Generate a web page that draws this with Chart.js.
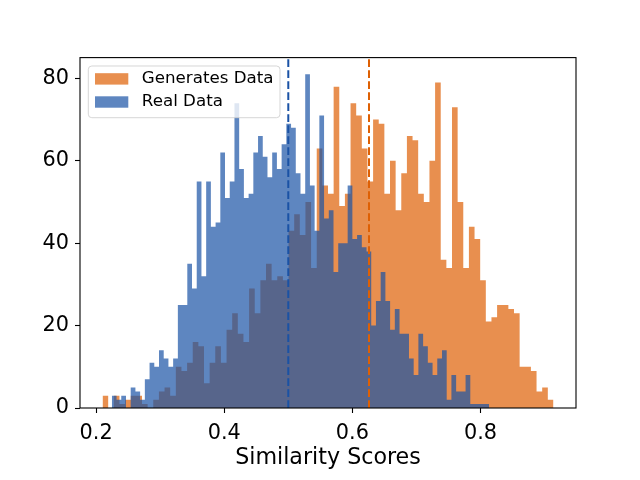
<!DOCTYPE html>
<html>
<head>
<meta charset="utf-8">
<script src="https://cdn.jsdelivr.net/npm/chart.js@4.4.1/dist/chart.umd.min.js"></script>
<style>
  html, body { margin: 0; padding: 0; background: #fff; }
  canvas { display: block; }
</style>
</head>
<body>
<canvas id="chartHist" width="640" height="480"></canvas>
<script>
  // counts per bin (80 bins each)
  const generatedCounts = [
    3, 0, 3, 1, 2, 3, 3, 1, 0, 2,
    4, 5, 3, 10, 9, 11, 16, 15, 6, 11,
    15, 11, 19, 23, 18, 16, 29, 23, 31, 35,
    31, 32, 31, 43, 47, 42, 50, 34, 63, 54,
    52, 78, 49, 52, 74, 71, 63, 55, 70, 69,
    52, 60, 48, 57, 66, 65, 52, 50, 60, 79,
    36, 34, 73, 50, 34, 44, 41, 31, 21, 22,
    25, 25, 24, 23, 10, 10, 9, 4, 5, 2
  ];
  const realCounts = [
    3, 2, 3, 0, 5, 4, 2, 7, 11, 10,
    14, 12, 10, 12, 25, 25, 35, 29, 55, 32,
    55, 44, 45, 62, 51, 55, 74, 58, 51, 52,
    62, 66, 61, 56, 62, 58, 64, 69, 68, 57,
    52, 81, 54, 43, 71, 46, 48, 33, 40, 40,
    54, 41, 42, 39, 38, 20, 26, 33, 26, 19,
    24, 18, 18, 12, 8, 18, 15, 11, 8, 12,
    14, 2, 8, 4, 4, 8, 1, 1, 1, 1
  ];
  // first and last bin edge of each series
  const generatedRange = [0.2100, 0.9140];
  const realRange = [0.2245, 0.8136];
  // mean markers
  const generatedMean = 0.626;
  const realMean = 0.500;

  const seriesLabels = ['Generates Data', 'Real Data'];
  const xTitle = 'Similarity Scores';
  const xTicks = [0.2, 0.4, 0.6, 0.8];
  const yTicks = [0, 20, 40, 60, 80];
  const xLimits = [0.1748, 0.9492];
  const yLimits = [0, 85.05];

  const orangeFill = 'rgba(222, 96, 4, 0.7)';
  const blueFill = 'rgba(26, 82, 165, 0.7)';
  const font = 'DejaVu Sans';

  // histogram outline as step points (left edges + closing edge)
  function histPoints(counts, range) {
    const w = (range[1] - range[0]) / counts.length;
    const pts = counts.map((c, i) => ({ x: range[0] + i * w, y: c }));
    pts.push({ x: range[1], y: 0 });
    return pts;
  }

  function meanLine(x) {
    return [{ x: x, y: yLimits[0] }, { x: x, y: yLimits[1] }];
  }

  // black frame round the plot (all four spines)
  const frame = {
    id: 'frame',
    afterDatasetsDraw(chart) {
      const a = chart.chartArea;
      const ctx = chart.ctx;
      ctx.save();
      ctx.strokeStyle = '#000';
      ctx.lineWidth = 1.1;
      ctx.strokeRect(a.left, a.top, a.right - a.left, a.bottom - a.top);
      ctx.restore();
    }
  };

  // matplotlib-like legend inside the axes, upper left
  const legendBox = {
    id: 'legendBox',
    afterDraw(chart) {
      const a = chart.chartArea;
      const ctx = chart.ctx;
      const x0 = a.left + 8.3, y0 = a.top + 8.4;
      const w = 191.7, h = 51.7;
      ctx.save();
      ctx.beginPath();
      ctx.roundRect(x0, y0, w, h, 3.5);
      ctx.fillStyle = 'rgba(255,255,255,0.8)';
      ctx.fill();
      ctx.strokeStyle = 'rgba(204,204,204,0.8)';
      ctx.lineWidth = 1;
      ctx.stroke();
      const fills = [orangeFill, blueFill];
      ctx.font = '16.7px "' + font + '"';
      ctx.textBaseline = 'middle';
      ctx.textAlign = 'left';
      seriesLabels.forEach((lab, i) => {
        const cy = y0 + 12.8 + i * 23.1;
        ctx.fillStyle = '#fff';
        ctx.fillRect(x0 + 6.7, cy - 5.6, 33.3, 11.4);
        ctx.fillStyle = fills[i];
        ctx.fillRect(x0 + 6.7, cy - 5.6, 33.3, 11.4);
        ctx.fillStyle = '#000';
        ctx.fillText(lab, x0 + 53.5, cy);
      });
      ctx.restore();
    }
  };

  const ctxHist = document.getElementById('chartHist');

  new Chart(ctxHist, {
    type: 'line',
    data: {
      datasets: [
        {
          label: seriesLabels[0],
          data: histPoints(generatedCounts, generatedRange),
          stepped: 'before',
          fill: 'origin',
          backgroundColor: orangeFill,
          borderColor: 'rgba(0,0,0,0)',
          borderWidth: 0,
          pointRadius: 0,
          order: 2
        },
        {
          label: seriesLabels[1],
          data: histPoints(realCounts, realRange),
          stepped: 'before',
          fill: 'origin',
          backgroundColor: blueFill,
          borderColor: 'rgba(0,0,0,0)',
          borderWidth: 0,
          pointRadius: 0,
          order: 1
        },
        {
          label: 'real mean',
          data: meanLine(realMean),
          borderColor: '#1a52a5',
          borderWidth: 2,
          borderDash: [7.7, 3.3],
          pointRadius: 0,
          fill: false,
          order: 0
        },
        {
          label: 'generated mean',
          data: meanLine(generatedMean),
          borderColor: '#de6004',
          borderWidth: 2,
          borderDash: [7.7, 3.3],
          pointRadius: 0,
          fill: false,
          order: 0
        }
      ]
    },
    options: {
      responsive: false,
      animation: false,
      layout: { padding: { top: 57.6, right: 64, bottom: 0, left: 0 } },
      plugins: {
        legend: { display: false },
        tooltip: { enabled: false }
      },
      scales: {
        x: {
          type: 'linear',
          min: xLimits[0],
          max: xLimits[1],
          afterBuildTicks: s => { s.ticks = xTicks.map(v => ({ value: v })); },
          afterFit: s => { s.height = 72; },
          border: { display: false },
          grid: { display: true, drawOnChartArea: false, tickLength: 5, tickColor: '#000', tickWidth: 1.1 },
          ticks: {
            color: '#000',
            padding: 8,
            maxRotation: 0,
            font: { family: font, size: 20.8 },
            callback: v => v.toFixed(1)
          },
          title: {
            display: true,
            text: xTitle,
            color: '#000',
            font: { family: font, size: 22.2 },
            padding: { top: 0, bottom: 8 }
          }
        },
        y: {
          min: yLimits[0],
          max: yLimits[1],
          afterBuildTicks: s => { s.ticks = yTicks.map(v => ({ value: v })); },
          afterFit: s => { s.width = 80; },
          border: { display: false },
          grid: { display: true, drawOnChartArea: false, tickLength: 5, tickColor: '#000', tickWidth: 1.1 },
          ticks: {
            color: '#000',
            padding: 6,
            font: { family: font, size: 20.8 },
            callback: v => String(v)
          }
        }
      }
    },
    plugins: [frame, legendBox]
  });
</script>
</body>
</html>
